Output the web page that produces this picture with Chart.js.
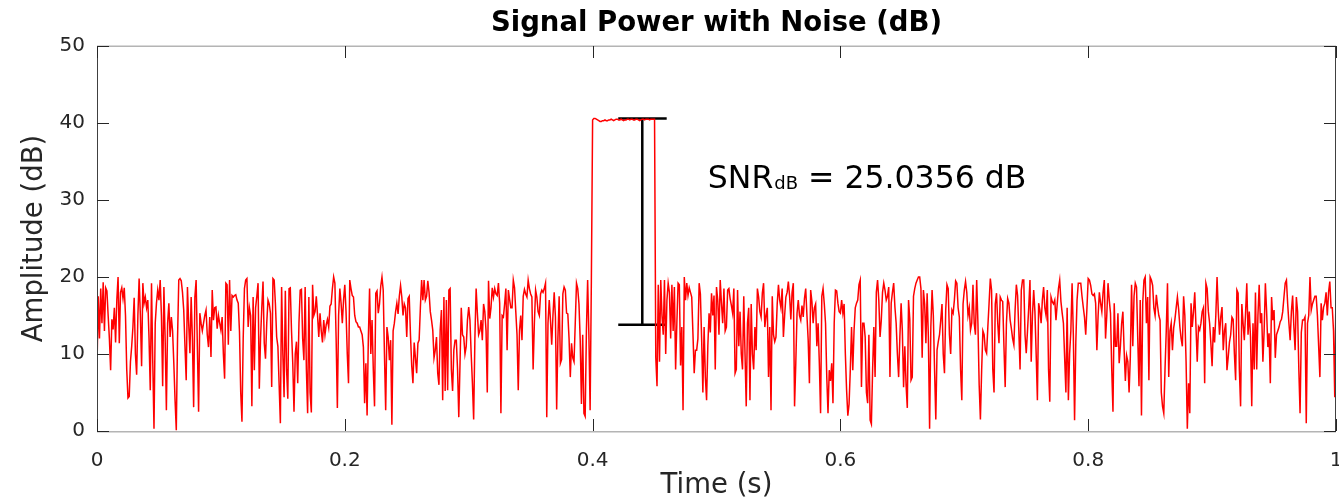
<!DOCTYPE html>
<html>
<head>
<meta charset="utf-8">
<script src="https://cdn.jsdelivr.net/npm/chart.js@4.4.1/dist/chart.umd.min.js"></script>
<style>
  html, body { margin: 0; padding: 0; background: #ffffff; }
  #wrap { width: 1339px; height: 500px; }
</style>
</head>
<body>
<div id="wrap"><canvas id="c" width="1339" height="500"></canvas></div>
<script>
// ---------------- data ----------------
const sampleRate = 1000; // samples per second, t = i / sampleRate

// noise before the pulse: samples 0..399 (dB)
const noiseBefore = [
  8.2, 17.5, 12, 18.5, 14, 19.3, 13, 18.6, 18.2, 15,
  12, 7.9, 14.5, 13.2, 16, 11.5, 17, 20, 11.4, 18,
  18.6, 17.2, 18.6, 15, 8, 4.3, 4.5, 9, 11, 13.5,
  17.3, 10, 7.3, 15, 19.8, 15, 8.4, 19.2, 16.6, 17.4,
  16, 17, 12, 5.3, 19.2, 9, 0.3, 14, 16.6, 18.3,
  17, 19.6, 15, 5.8, 18.7, 12, 2.7, 14, 16.6, 12.2,
  14.8, 13, 8.8, 4, 0.1, 12, 19.6, 19.8, 19.5, 18,
  15.7, 11, 6.6, 18.7, 14, 10.1, 17.4, 12, 3.1, 17.4,
  19.6, 11, 2.5, 15.3, 14, 13, 14, 15, 15.7, 12.5,
  10.9, 14.8, 9.6, 18.3, 14.4, 16, 16.1, 13.3, 15, 14,
  13.1, 14.8, 10, 6.8, 19.2, 19, 11.2, 19.6, 13, 17.6,
  17.4, 17.6, 17.7, 17, 16.6, 12.9, 5, 1.2, 12, 18.5,
  19.6, 19.8, 13.5, 16, 15, 3.2, 17.4, 7.9, 16, 17.5,
  19.2, 5.5, 12, 16, 19.4, 11.4, 9.4, 14, 17, 16.5,
  15.3, 5.7, 19.8, 19.6, 16.5, 12.2, 11, 6, 1, 18.7,
  10, 4.4, 18.2, 8, 4.2, 18.5, 18.6, 13, 8.8, 2.5,
  10, 11.6, 6.2, 14, 18.3, 18.4, 12, 9.2, 18.7, 8,
  2.3, 17.4, 5, 2.4, 19, 15, 15.5, 17.5, 15, 12.2,
  15.3, 13, 11.5, 14.4, 12.5, 13.8, 14.5, 13.5, 16.2, 16.5,
  18.5, 20, 19.2, 12, 3, 15, 18.5, 16.6, 14, 17,
  19, 15.5, 10, 6.2, 19.6, 18.5, 17.6, 17.4, 15, 14.2,
  14, 13.5, 13.5, 13, 12.5, 10.9, 3.6, 8.8, 2, 12,
  18.5, 10, 14.4, 8, 3.2, 17.9, 18.2, 15.3, 16.5, 18.8,
  20, 18.3, 10, 2.7, 13.5, 12.2, 9.2, 11.8, 0.8, 13,
  14, 15.5, 16.6, 15.2, 17.5, 18.9, 17.4, 15, 16.5, 16,
  12.2, 17.2, 17.5, 12.5, 8.5, 6.2, 11.5, 9.5, 7.5, 11.4,
  11.8, 16, 19.6, 17, 19.6, 17, 17.5, 19.5, 18, 15.5,
  14.4, 13.1, 9.5, 10.5, 12.2, 7.5, 6, 13.1, 15.7, 4,
  17.4, 5.2, 17, 5.3, 18.3, 18.5, 8, 5.2, 10.5, 11.8,
  11.8, 8, 1.8, 8.8, 16, 12.5, 12.2, 10, 11, 14.4,
  16.1, 14.4, 10, 6.2, 1.5, 12, 18.5, 15.3, 12.5, 13,
  14.4, 11.8, 16.5, 15.5, 13, 5, 19.5, 14.6, 16, 18.6,
  17.4, 18.5, 17.8, 17.6, 19.2, 16.6, 2.3, 15, 14.8, 16.5,
  18.5, 10.5, 18.3, 17.1, 16, 16, 19.6, 18.6, 15.5, 12.5,
  5.3, 13, 15, 11.8, 17.5, 18.4, 17.8, 17.4, 19.6, 18.5,
  17.8, 17.4, 8, 14, 18.3, 17.4, 15.5, 15, 17.8, 18.3,
  18, 18.5, 19.2, 1.8, 14, 17, 14.4, 11.2, 15, 18,
  14.8, 2.8, 12, 17.5, 8.8, 9.3, 17.8, 18.7, 18.3, 15.3,
  15.2, 12, 7, 11.4, 9.5, 9, 14, 19.2, 18.5, 16.5,
  11.8, 3.5, 12.5, 2.3, 1.9, 13, 19.6, 12.5, 2.7, 19.5
];

// signal pulse: samples 400..450 (dB)
const pulseTop = [
  40.4, 40.6, 40.6, 40.5, 40.4, 40.3, 40.2, 40.2, 40.3, 40.3,
  40.4, 40.3, 40.3, 40.4, 40.4, 40.5, 40.4, 40.3, 40.4, 40.5,
  40.5, 40.4, 40.4, 40.5, 40.4, 40.3, 40.4, 40.4, 40.5, 40.5,
  40.4, 40.5, 40.5, 40.4, 40.4, 40.5, 40.5, 40.4, 40.3, 40.4,
  40.5, 40.5, 40.4, 40.5, 40.5, 40.5, 40.4, 40.5, 40.5, 40.5,
  40.5
];

// noise after the pulse: samples 451..1000 (dB)
const noiseAfter = [
  9.5, 5.8, 19, 9, 19.6, 15, 12.5, 19.6, 10, 17,
  19.2, 18, 12, 19, 13, 18.7, 8, 14, 19.2, 19,
  8.5, 13.5, 2.7, 20, 17, 19.2, 17.6, 18.6, 18, 17.4,
  12.6, 7.5, 10.5, 10.5, 12, 19.2, 17.8, 12, 5, 13.5,
  7, 4, 11, 15.3, 12.8, 17.9, 15, 17.6, 8, 18.7,
  17, 12.5, 19.6, 16.6, 14, 18.5, 13, 13.5, 18.3, 18.5,
  17.2, 16.3, 15.3, 18.5, 7.5, 8, 18.3, 11, 15.5, 10,
  8, 17.5, 10.1, 3.2, 14, 16, 4, 16.5, 10, 8,
  13.5, 10.5, 18.5, 17.4, 15.5, 14.8, 17.9, 19.2, 13.5, 15,
  16, 7, 13.5, 2.7, 17.5, 12.5, 11.6, 12.2, 16.5, 19,
  17, 16, 18.5, 12.2, 15, 17.4, 18, 19.4, 17.5, 14.5,
  18, 19.2, 3.2, 8.8, 15.3, 17, 15, 14.4, 16.3, 14.8,
  17.2, 18.5, 15, 11.8, 6.2, 18.3, 16.8, 14, 16, 16.5,
  11, 14, 8.8, 2.3, 17.5, 18.5, 16.5, 14, 7, 2.3,
  7.9, 6.5, 8.8, 3.6, 14, 18.3, 18.2, 16.6, 15.5, 15.3,
  17, 15.3, 16.5, 10, 5.3, 2, 3.5, 8, 13.5, 7.9,
  13, 16, 16.6, 17, 19, 19.6, 5.7, 14, 14, 12.2,
  5, 3.6, 12.5, 1.4, 0.9, 8, 13.5, 7, 18, 19.6,
  17, 12.2, 14.4, 18, 19.2, 18.3, 17, 17.5, 18.7, 7,
  16.6, 18, 19.2, 16.1, 14, 10, 7, 12.2, 16.6, 13,
  5.7, 11, 6, 3, 17, 14.5, 6.6, 7, 17.5, 18.5,
  19.2, 19.6, 20, 20, 18.5, 9.5, 18.3, 16.5, 11.4, 17.9,
  12.2, 0.3, 13.5, 18.3, 15, 8, 1.5, 10.5, 11.6, 12.5,
  14.4, 16.5, 10, 7.5, 15.7, 19, 18.5, 12.5, 10, 15.7,
  15.3, 17, 19.5, 19.2, 16, 14.8, 8, 4, 16.5, 18.3,
  19.4, 18, 15, 16, 13.1, 14, 19, 14, 12.5, 19.6,
  14, 6, 1.5, 7.9, 13, 12.5, 10.5, 10.1, 13.5, 16.6,
  19.8, 18.3, 8, 5, 16.5, 17.9, 14, 11.4, 17.4, 17,
  16.8, 11, 5.7, 14, 17.2, 16.6, 14.4, 13.3, 12, 11.2,
  15.7, 19, 17.6, 13.1, 8, 18.3, 19.6, 19.6, 12.5, 10.1,
  13, 16, 19.6, 9, 15, 18.3, 15.5, 10, 4, 16.6,
  15.7, 14, 17, 18.7, 16, 15, 18.3, 8, 3.8, 17.4,
  16.8, 16.5, 17, 14.4, 16.5, 18.5, 19.6, 16.8, 15.3, 14,
  9.5, 5, 16, 4, 10, 13, 19.2, 12.5, 1.4, 11.5,
  17, 19.2, 19.2, 19.2, 17.5, 16.1, 14.8, 12.5, 16, 19.8,
  19.6, 18.9, 17.8, 17.6, 17.8, 16.6, 10.5, 15, 18, 16.6,
  15.5, 18, 19.6, 12, 15, 19.2, 17, 15.3, 8, 2.5,
  16.6, 11, 11, 15.3, 8.8, 11, 14, 15.5, 10.5, 6.5,
  9.8, 9, 5, 9.6, 19, 11, 17.5, 19.2, 18.7, 12,
  5.8, 17, 2, 16.6, 19.6, 20, 14, 17.4, 6.6, 20,
  19.6, 18.9, 16, 15, 17.7, 16.2, 15, 14.4, 5, 3.2,
  2.3, 8, 13, 19.2, 7, 13, 14, 10.5, 13.4, 14.5,
  16, 17.4, 15.8, 13.5, 12, 11, 17.5, 15, 9, 0.3,
  6.2, 2.3, 16.6, 13.5, 15.5, 18, 13.5, 9, 13.5, 13.1,
  14, 15.5, 16, 6.2, 19.2, 18.5, 15.5, 14, 11.4, 8.4,
  13.5, 11.5, 15, 20, 15.5, 12.5, 14.8, 16.1, 10.5, 13,
  14, 7.9, 9.6, 11.5, 12.5, 14.8, 14.5, 10, 6.6, 18.3,
  17.9, 8, 3.2, 16.5, 14, 11.8, 15.3, 19.2, 12.5, 15.5,
  12.2, 3.2, 14, 8, 18, 8, 15, 19, 14, 15.3,
  9, 13, 19.2, 15.5, 10.9, 12.7, 6.2, 17.4, 14.4, 15.7,
  9.5, 12.5, 13, 13.5, 14.2, 14.5, 15.5, 17.4, 19.2, 19.6,
  16.5, 14, 11.8, 15.5, 17.6, 13.5, 10.5, 17.4, 15.5, 8,
  2.3, 12.8, 14.4, 14.4, 14.8, 1, 14, 15, 20, 15.7,
  16.5, 17, 17.5, 17.5, 15, 11, 7, 16.6, 14.4, 16.1,
  16.6, 18, 15, 18, 19.4, 16, 16, 13, 4.4, 18.3
];

// SNR marker
const snrBarTime = [0.4207, 0.4598];   // horizontal bar extent (s)
const snrMarkerTime = 0.4401;          // vertical bar position (s)
const snrLevelsDb = [40.6, 13.8];      // signal level, noise level (dB)
const snrLabelParts = ['SNR', 'dB', ' = 25.0356 dB'];
const snrLabelAt = [0.493, 31.56];     // (time, dB) of label baseline start

// axes
const xTickValues = [0, 0.2, 0.4, 0.6, 0.8, 1];
const xTickLabels = ['0', '0.2', '0.4', '0.6', '0.8', '1'];
const yTickValues = [0, 10, 20, 30, 40, 50];
const yTickLabels = ['0', '10', '20', '30', '40', '50'];
const chartTitle = 'Signal Power with Noise (dB)';
const xAxisTitle = 'Time (s)';
const yAxisTitle = 'Amplitude (dB)';

// ---------------- build ----------------
const amplitudeDb = noiseBefore.concat(pulseTop, noiseAfter);
const signalPoints = amplitudeDb.map((v, i) => ({ x: i / sampleRate, y: v }));
const barTop = snrBarTime.map(t => ({ x: t, y: snrLevelsDb[0] }));
const barBottom = snrBarTime.map(t => ({ x: t, y: snrLevelsDb[1] }));
const barVertical = snrLevelsDb.map(v => ({ x: snrMarkerTime, y: v }));

const FONT = '"DejaVu Sans", "Liberation Sans", sans-serif';
const AXIS_COLOR = '#262626';

const decor = {
  id: 'decor',
  afterDatasetsDraw(chart) {
    const { ctx, chartArea: a, scales: { x, y } } = chart;
    ctx.save();
    // frame: vertical sides dark, horizontal sides lighter (as in the picture)
    ctx.lineWidth = 1;
    ctx.strokeStyle = '#404040';
    ctx.beginPath();
    ctx.moveTo(a.left + 0.5, a.top); ctx.lineTo(a.left + 0.5, a.bottom + 1);
    ctx.moveTo(a.right - 0.5, a.top); ctx.lineTo(a.right - 0.5, a.bottom + 1);
    ctx.stroke();
    ctx.strokeStyle = '#b4b4b4';
    ctx.lineWidth = 1.5;
    ctx.beginPath();
    ctx.moveTo(a.left, a.bottom + 0.75); ctx.lineTo(a.right, a.bottom + 0.75);
    ctx.moveTo(a.left, a.top + 0.25); ctx.lineTo(a.right, a.top + 0.25);
    ctx.stroke();
    // inward ticks
    const TL = 12;
    ctx.lineWidth = 1;
    ctx.strokeStyle = AXIS_COLOR;
    ctx.beginPath();
    xTickValues.forEach(v => {
      const px = Math.round(x.getPixelForValue(v)) + 0.5;
      ctx.moveTo(px, a.bottom); ctx.lineTo(px, a.bottom - TL);
      ctx.moveTo(px, a.top); ctx.lineTo(px, a.top + TL);
    });
    yTickValues.forEach(v => {
      const py = Math.round(y.getPixelForValue(v)) + 0.5;
      ctx.moveTo(a.left, py); ctx.lineTo(a.left + TL, py);
      ctx.moveTo(a.right, py); ctx.lineTo(a.right - TL, py);
    });
    ctx.stroke();

    // title
    const cx = (a.left + a.right) / 2;
    ctx.fillStyle = '#000';
    ctx.textAlign = 'center';
    ctx.textBaseline = 'middle';
    ctx.font = 'bold 27.5px ' + FONT;
    ctx.fillText(chartTitle, cx, 24);
    // axis titles
    ctx.fillStyle = AXIS_COLOR;
    ctx.font = '27.5px ' + FONT;
    ctx.fillText(xAxisTitle, cx, 486);
    ctx.save();
    ctx.translate(35, (a.top + a.bottom) / 2);
    ctx.rotate(-Math.PI / 2);
    ctx.fillText(yAxisTitle, 0, 0);
    ctx.restore();

    // SNR label
    let lx = x.getPixelForValue(snrLabelAt[0]);
    const ly = y.getPixelForValue(snrLabelAt[1]);
    ctx.fillStyle = '#000';
    ctx.textAlign = 'left';
    ctx.textBaseline = 'alphabetic';
    ctx.font = '31.5px ' + FONT;
    ctx.fillText(snrLabelParts[0], lx, ly);
    lx += ctx.measureText(snrLabelParts[0]).width + 1;
    ctx.font = '18px ' + FONT;
    ctx.fillText(snrLabelParts[1], lx, ly + 1);
    lx += ctx.measureText(snrLabelParts[1]).width;
    ctx.font = '31.5px ' + FONT;
    ctx.fillText(snrLabelParts[2], lx, ly);
    ctx.restore();
  }
};

new Chart(document.getElementById('c'), {
  type: 'line',
  data: {
    datasets: [
      { data: signalPoints, borderColor: '#ff0000', borderWidth: 1.5, pointRadius: 0, tension: 0, fill: false },
      { data: barTop, borderColor: '#000000', borderWidth: 2.5, pointRadius: 0, fill: false },
      { data: barVertical, borderColor: '#000000', borderWidth: 2.5, pointRadius: 0, fill: false },
      { data: barBottom, borderColor: '#000000', borderWidth: 2.5, pointRadius: 0, fill: false }
    ]
  },
  options: {
    responsive: false,
    animation: false,
    devicePixelRatio: 1,
    layout: { padding: { top: 46, right: 3, left: 0, bottom: 0 } },
    plugins: { legend: { display: false }, tooltip: { enabled: false }, title: { display: false } },
    scales: {
      x: {
        type: 'linear', min: 0, max: 1,
        afterBuildTicks: s => { s.ticks = xTickValues.map(v => ({ value: v })); },
        ticks: {
          callback: (v) => xTickLabels[xTickValues.indexOf(Math.round(v * 10) / 10)],
          font: { family: FONT, size: 20 }, color: AXIS_COLOR, padding: 18, maxRotation: 0, autoSkip: false
        },
        grid: { display: false, drawTicks: false },
        border: { display: false },
        afterFit: s => { s.height = 69; s.paddingLeft = 0; s.paddingRight = 0; }
      },
      y: {
        type: 'linear', min: 0, max: 50,
        afterBuildTicks: s => { s.ticks = yTickValues.map(v => ({ value: v })); },
        ticks: {
          callback: (v) => yTickLabels[yTickValues.indexOf(v)],
          font: { family: FONT, size: 20 }, color: AXIS_COLOR, padding: 12
        },
        grid: { display: false, drawTicks: false },
        border: { display: false },
        afterFit: s => { s.width = 97; s.paddingTop = 0; s.paddingBottom = 0; }
      }
    }
  },
  plugins: [decor]
});
</script>
</body>
</html>
